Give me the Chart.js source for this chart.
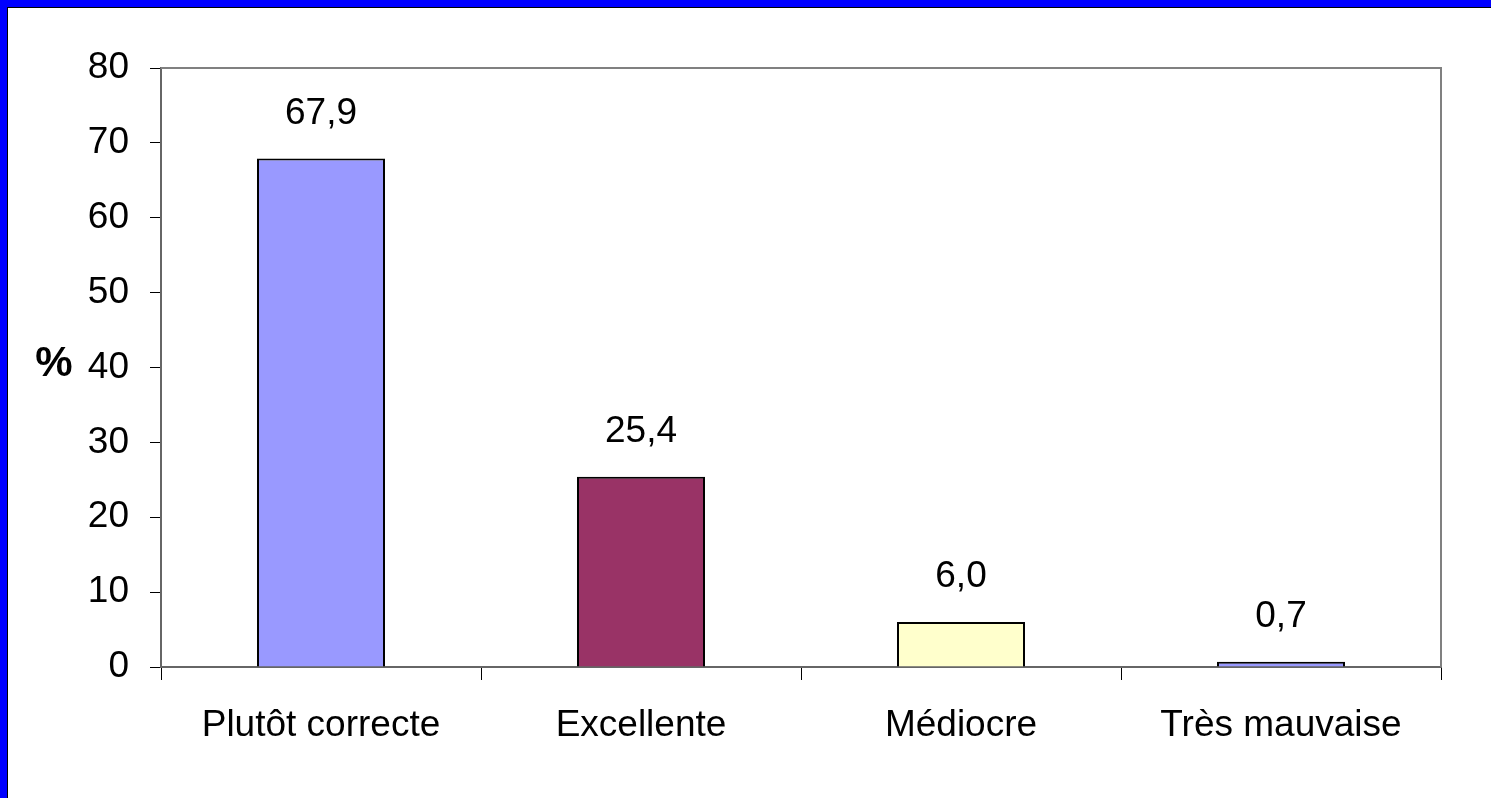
<!DOCTYPE html>
<html>
<head>
<meta charset="utf-8">
<script src="https://cdn.jsdelivr.net/npm/chart.js@4/dist/chart.umd.min.js"></script>
<style>
  html, body { margin: 0; padding: 0; background: #fff; }
  #wrap { position: relative; width: 1491px; height: 798px; }
</style>
</head>
<body>
<div id="wrap"><canvas id="c" width="1491" height="798"></canvas></div>
<script>
const categories = ['Plutôt correcte', 'Excellente', 'Médiocre', 'Très mauvaise'];
const values = [67.9, 25.4, 6.0, 0.7];
const barColors = ['#9999FF', '#993366', '#FFFFCC', '#9999FF'];
const yTicks = [0, 10, 20, 30, 40, 50, 60, 70, 80];
const yAxisLabel = '%';

const FONT = '"Liberation Sans", Arial, sans-serif';
const FS = 37;

const framePlugin = {
  id: 'frame',
  beforeDraw(chart) {
    const ctx = chart.ctx;
    ctx.save();
    ctx.fillStyle = '#fff';
    ctx.fillRect(0, 0, chart.width, chart.height);
    ctx.fillStyle = '#0000FF';
    ctx.fillRect(0, 0, chart.width, 7);
    ctx.fillRect(0, 0, 7, chart.height);
    ctx.fillStyle = '#000';
    ctx.fillRect(7, 7, chart.width - 7, 1);
    ctx.fillRect(7, 7, 1, chart.height - 7);
    ctx.restore();
  },
  afterDatasetsDraw(chart) {
    const ctx = chart.ctx;
    const a = chart.chartArea;
    ctx.save();
    ctx.strokeStyle = '#808080';
    ctx.lineWidth = 2;
    ctx.beginPath();
    ctx.moveTo(a.left, a.top);
    ctx.lineTo(a.right, a.top);
    ctx.lineTo(a.right, a.bottom);
    ctx.stroke();
    const meta = chart.getDatasetMeta(0);
    ctx.fillStyle = '#000';
    ctx.font = FS + 'px ' + FONT;
    ctx.textAlign = 'center';
    ctx.textBaseline = 'middle';
    meta.data.forEach((bar, i) => {
      const v = chart.data.datasets[0].data[i];
      ctx.fillText(v.toFixed(1).replace('.', ','), bar.x, bar.y - 45);
    });
    ctx.font = 'bold 42px ' + FONT;
    ctx.textAlign = 'center';
    const ys = chart.scales.y;
    ctx.fillText(yAxisLabel, 54, ys.getPixelForValue(40) - 3);
    ctx.restore();
  }
};

new Chart(document.getElementById('c'), {
  type: 'bar',
  data: {
    labels: categories,
    datasets: [{
      data: values,
      backgroundColor: barColors,
      borderColor: '#000',
      borderWidth: 2,
      barPercentage: 0.4,
      categoryPercentage: 1.0
    }]
  },
  options: {
    responsive: false,
    animation: false,
    devicePixelRatio: 1,
    layout: { padding: { top: 68, right: 50, bottom: 0, left: 0 } },
    plugins: { legend: { display: false }, tooltip: { enabled: false } },
    scales: {
      x: {
        offset: true,
        grid: { offset: true, drawOnChartArea: false, drawTicks: true, tickLength: 13, color: '#000', lineWidth: 1 },
        border: { color: '#666', width: 2 },
        ticks: { color: '#000', font: { family: FONT, size: FS }, padding: 24, maxRotation: 0, autoSkip: false },
        afterFit(scale) { scale.height = 131; }
      },
      y: {
        min: 0, max: 80,
        afterBuildTicks(scale) { scale.ticks = yTicks.map(v => ({ value: v })); },
        grid: { drawOnChartArea: false, drawTicks: true, tickLength: 11, color: '#000', lineWidth: 1 },
        border: { color: '#666', width: 2 },
        ticks: { color: '#000', font: { family: FONT, size: FS }, padding: 21 },
        afterFit(scale) { scale.width = 161; }
      }
    }
  },
  plugins: [framePlugin]
});
</script>
</body>
</html>
